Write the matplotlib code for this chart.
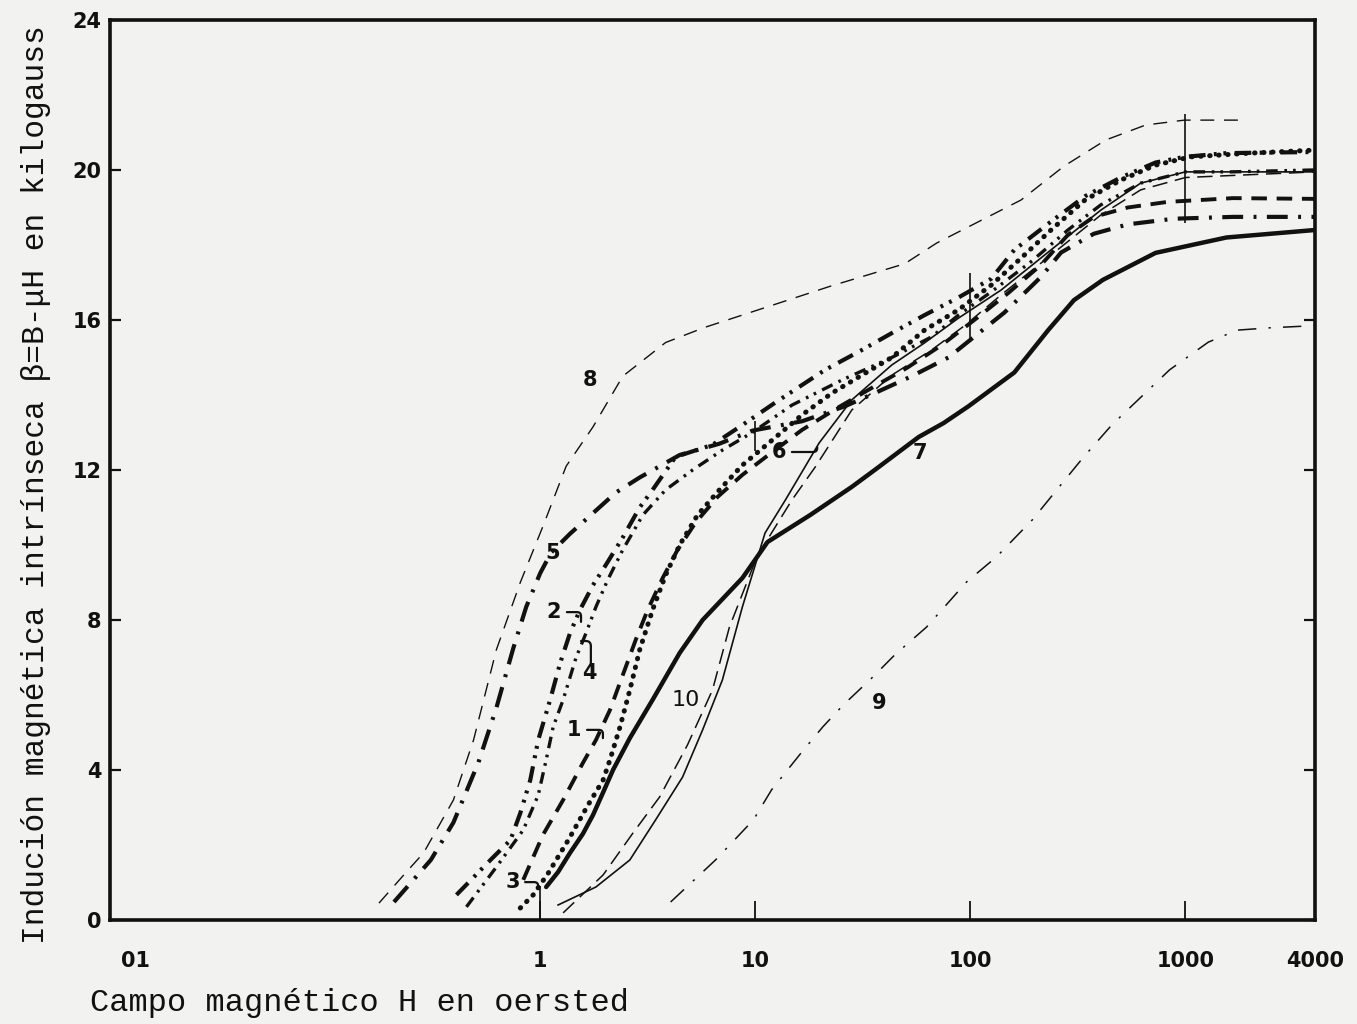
import matplotlib
matplotlib.use("Agg")
import matplotlib.pyplot as plt
import matplotlib.transforms as mtransforms
from matplotlib.ticker import NullLocator

# curvas de imanacion: H en oersted, B intrinseca en kilogauss
curve1_H = [0.834, 1.03, 1.278, 1.58, 1.816, 2.11, 2.42, 2.78, 3.16, 3.71, 4.35, 5.28, 6.67, 8.71, 12.0,
            16.5, 24, 34.8, 50.6, 73.5, 107, 150, 213, 284, 375, 539, 826, 1667, 4000]
curve1_B = [1.07, 2.27, 3.2, 4.19, 4.8, 5.6, 6.53, 7.47, 8.27, 9.12, 9.87, 10.6, 11.28, 11.87, 12.48,
            13.07, 13.65, 14.19, 14.72, 15.33, 16.05, 16.72, 17.47, 18.27, 18.75, 19.0, 19.15, 19.25, 19.23]

curve2_H = [0.408, 0.587, 0.727, 0.808, 0.899, 0.979, 1.112, 1.238, 1.376, 1.531, 1.76, 2.02, 2.42, 2.9,
            3.33, 4.26, 6.32, 8.71, 12.4, 21.1, 31.3, 43.1, 61.2, 88, 125, 160, 234, 341, 500, 726, 989,
            1549, 4000]
curve2_B = [0.67, 1.6, 2.13, 2.85, 3.73, 4.8, 5.87, 6.85, 7.65, 8.27, 8.93, 9.47, 10.2, 11.0,
            11.47, 12.35, 12.67, 13.2, 13.8, 14.67, 15.2, 15.65, 16.13, 16.6, 17.1, 17.87, 18.6, 19.3,
            19.8, 20.2, 20.35, 20.45, 20.48]

curve3_H = [0.808, 0.928, 1.09, 1.35, 1.67, 1.96, 2.11, 2.35, 2.61, 2.9, 3.33, 3.83, 4.45, 5.39, 6.81,
            8.71, 12.0, 16.5, 22.7, 31.3, 43.1, 61.2, 88, 125, 172, 237, 341, 500, 726, 1055, 2000, 4000]
curve3_B = [0.32, 0.67, 1.25, 2.13, 3.07, 3.73, 4.27, 5.15, 6.13, 7.2, 8.27, 9.2, 10.0, 10.8, 11.47,
            12.13, 12.8, 13.47, 14.05, 14.53, 15.0, 15.73, 16.27, 16.93, 17.65, 18.4, 19.2, 19.73,
            20.13, 20.35, 20.45, 20.53]

curve4_H = [0.454, 0.625, 0.834, 0.979, 1.066, 1.149, 1.278, 1.468, 1.633, 1.816, 2.06, 2.42, 3.0, 3.83,
            5.11, 7.03, 9.68, 14.8, 25.3, 43.1, 66, 88, 125, 191, 284, 404, 619, 1000, 1616, 4000]
curve4_B = [0.35, 1.41, 2.4, 3.33, 4.27, 5.15, 5.87, 7.0, 7.65, 8.35, 9.07, 9.87, 10.8, 11.47,
            12.0, 12.53, 13.0, 13.73, 14.4, 15.0, 15.55, 16.13, 16.75, 17.55, 18.4, 19.07, 19.65,
            19.95, 19.95, 20.0]

curve5_H = [0.209, 0.31, 0.395, 0.516, 0.625, 0.75, 0.861, 1.0, 1.125, 1.376, 1.76, 2.25, 2.9, 4.45,
            6.8, 9.7, 16.5, 26.1, 35.9, 53.3, 79, 104, 144, 213, 264, 375, 539, 880, 1667, 4000]
curve5_B = [0.48, 1.6, 2.6, 4.2, 5.65, 7.25, 8.35, 9.25, 9.8, 10.3, 10.85, 11.4, 11.8, 12.4,
            12.7, 13.05, 13.3, 13.7, 14.05, 14.5, 15.0, 15.55, 16.2, 17.15, 17.8, 18.3, 18.55, 18.7,
            18.75, 18.75]

curve6_H = [1.211, 1.816, 2.61, 3.44, 4.59, 5.69, 7.03, 8.71, 11.1, 13.8, 19.8, 28.1, 43.1, 61.2, 88,
            139, 237, 404, 619, 1000, 4000]
curve6_B = [0.4, 0.88, 1.6, 2.67, 3.81, 5.07, 6.4, 8.35, 10.32, 11.2, 12.72, 13.87, 14.8, 15.39, 16.05,
            16.8, 17.87, 18.93, 19.65, 19.95, 19.95]

curve7_H = [1.066, 1.211, 1.376, 1.58, 1.76, 1.96, 2.18, 2.61, 3.33, 4.45, 5.69, 8.71, 11.4, 18.0, 28.1,
            35.9, 57.5, 75, 98, 160, 230, 303, 413, 726, 1549, 4000]
curve7_B = [0.88, 1.28, 1.79, 2.3, 2.8, 3.4, 4.0, 4.85, 5.87, 7.12, 8.0, 9.12, 10.08, 10.8, 11.55,
            12.0, 12.88, 13.25, 13.7, 14.6, 15.73, 16.53, 17.07, 17.79, 18.2, 18.4]

curve8_H = [0.178, 0.232, 0.287, 0.395, 0.49, 0.625, 0.808, 1.03, 1.32, 1.76, 2.42, 3.83, 5.8, 22.3,
            49.5, 69.6, 172, 272, 426, 653, 989, 1936]
curve8_B = [0.45, 1.2, 1.79, 3.2, 4.8, 7.2, 9.0, 10.5, 12.1, 13.15, 14.5, 15.4, 15.8, 16.9,
            17.5, 18.05, 19.2, 20.1, 20.8, 21.2, 21.33, 21.33]

curve9_H = [4.04, 6.53, 9.8, 11.9, 16.3, 20.6, 25.6, 35.2, 44.5, 62.5, 95.8, 132, 194, 333, 454, 843,
            1277, 1741, 2448, 4000]
curve9_B = [0.48, 1.6, 2.67, 3.47, 4.45, 5.15, 5.73, 6.48, 7.07, 7.81, 9.01, 9.68, 10.67, 12.32, 13.2,
            14.67, 15.41, 15.73, 15.79, 15.85]

curve10_H = [1.278, 1.96, 2.7, 3.59, 4.84, 6.32, 7.58, 10.2, 14.8, 19.0, 28.1, 43.1, 66, 95, 139, 237,
             404, 619, 1000, 4000]
curve10_B = [0.19, 1.2, 2.32, 3.28, 4.67, 6.13, 7.81, 9.7, 11.2, 12.08, 13.6, 14.53, 15.2, 15.87,
             16.67, 17.73, 18.8, 19.47, 19.8, 19.95]

# trazos verticales de referencia
ref_H = [1, 10, 100, 1000]
ref_lo = [0, 12.5, 15.5, 18.6]
ref_hi = [0.9, 13.3, 17.25, 21.5]

x_ticks = [0.01, 1, 10, 100, 1000, 4000]
x_ticklabels = ["01", "1", "10", "100", "1000", "4000"]
y_ticks = [0, 4, 8, 12, 16, 20, 24]

# etiqueta, posicion del texto, punto senalado (None = sin flecha)
curve_labels = [
    ("8", (1.70, 14.4), None),
    ("5", (1.14, 9.79), None),
    ("2", (1.16, 8.21), (1.548, 7.95)),
    ("4", (1.70, 6.59), None),
    ("1", (1.44, 5.07), (1.957, 4.85)),
    ("3", (0.742, 1.01), (0.979, 0.85)),
    ("9", (37.8, 5.79), None),
    ("6", (12.9, 12.48), (19.4, 12.61)),
    ("7", (58.5, 12.45), None),
]

paper = "#f2f2f0"
ink = "#111111"

fig = plt.figure(figsize=(13.57, 10.24), dpi=100, facecolor=paper)
ax = fig.add_axes([110 / 1357, 104 / 1024, 1205 / 1357, 900 / 1024], facecolor=paper)

ax.plot(curve8_H, curve8_B, color=ink, lw=1.0, dashes=(10, 7))
ax.plot(curve5_H, curve5_B, color=ink, lw=3.0, dashes=(5, 2.5, 0.7, 2.5))
ax.plot(curve2_H, curve2_B, color=ink, lw=3.0, dashes=(4, 2, 0.7, 1.6, 0.7, 2))
ax.plot(curve4_H, curve4_B, color=ink, lw=2.4, dashes=(3.5, 2, 0.8, 1.8, 0.8, 2))
ax.plot(curve1_H, curve1_B, color=ink, lw=2.8, dashes=(4, 2.5))
ax.plot(curve3_H, curve3_B, color=ink, lw=3.6, dashes=(0.1, 1.7), dash_capstyle="round")
ax.plot(curve7_H, curve7_B, color=ink, lw=3.2, solid_capstyle="round")
ax.plot(curve6_H, curve6_B, color=ink, lw=1.2)
ax.plot(curve10_H, curve10_B, color=ink, lw=1.1, dashes=(10, 5))
ax.plot(curve9_H, curve9_B, color=ink, lw=1.1, dashes=(12, 8, 1.5, 8))

ax.vlines(ref_H, ref_lo, ref_hi, color=ink, lw=1.2)

for txt, pos, target in curve_labels:
    if target is None:
        ax.text(pos[0], pos[1], txt, ha="center", va="center", fontsize=15,
                fontweight="bold", color=ink)
    else:
        ax.annotate(txt, xy=target, xytext=pos, ha="center", va="center", fontsize=15,
                    fontweight="bold", color=ink,
                    arrowprops=dict(arrowstyle="-", lw=1.6, color=ink, shrinkA=2, shrinkB=0,
                                    connectionstyle="angle,angleA=0,angleB=90,rad=4"))
ax.text(4.74, 5.87, "10", ha="center", va="center", fontsize=16, color=ink)
# corchete sobre el 4
ax.annotate("", xy=(1.72, 6.8), xytext=(1.548, 7.44),
            arrowprops=dict(arrowstyle="-", lw=1.6, color=ink, shrinkA=0, shrinkB=0,
                            connectionstyle="angle,angleA=0,angleB=90,rad=5"))

ax.set_xscale("log")
ax.set_xlim(0.01, 4000)
ax.set_ylim(0, 24)
ax.set_xticks(x_ticks)
ax.set_xticklabels(x_ticklabels)
ax.xaxis.set_minor_locator(NullLocator())
ax.set_yticks(y_ticks)

for sp in ax.spines.values():
    sp.set_linewidth(2.6)
    sp.set_color(ink)

ax.tick_params(axis="x", direction="in", length=14, width=1.3, pad=22, labelsize=15, colors=ink)
ax.tick_params(axis="y", direction="in", length=8, width=1.6, pad=6, labelsize=15, colors=ink,
               right=True)
for lbl in ax.get_xticklabels() + ax.get_yticklabels():
    lbl.set_fontweight("bold")

xt = ax.xaxis.get_major_ticks()
xt[0].tick1line.set_visible(False)
xt[-1].tick1line.set_visible(False)
shift = mtransforms.ScaledTranslation(26 / 100, 0, fig.dpi_scale_trans)
first = ax.get_xticklabels()[0]
first.set_transform(first.get_transform() + shift)

fig.text(36 / 1357, 1 - 485 / 1024, "Indución magnética intrínseca β=B-μH en kilogauss",
         rotation=90, ha="center", va="center", fontsize=22.5, family="Liberation Mono", color=ink)
fig.text(90 / 1357, 1 - 1003 / 1024, "Campo magnético H en oersted",
         ha="left", va="center", fontsize=23, family="Liberation Mono", color=ink)

fig.savefig("out.png", dpi=100, facecolor=fig.get_facecolor())
